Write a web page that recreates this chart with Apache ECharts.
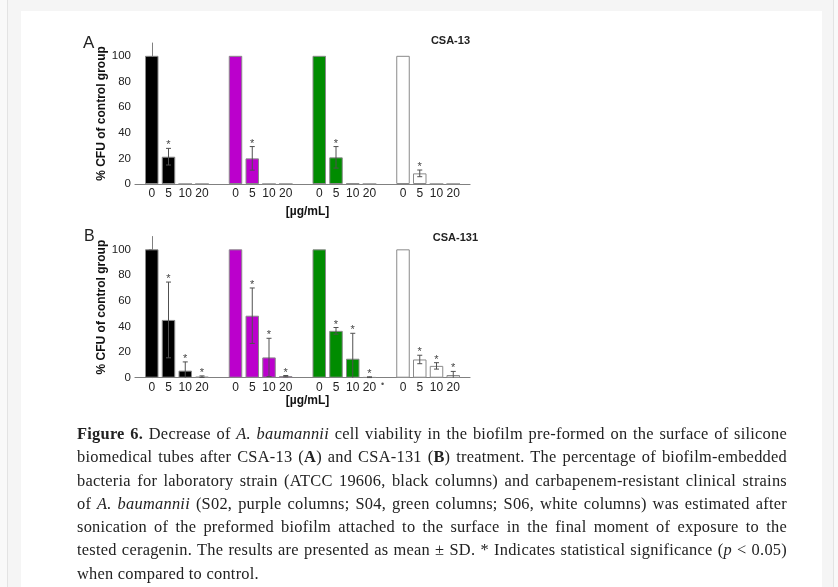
<!DOCTYPE html>
<html>
<head>
<meta charset="utf-8">
<script src="https://cdn.jsdelivr.net/npm/echarts@6/dist/echarts.min.js"></script>
<style>
  html, body { margin: 0; padding: 0; width: 838px; height: 587px; overflow: hidden; background: #f5f5f5; }
  #stripL { position: absolute; left: 0; top: 0; width: 7px; height: 587px; background: #f9f9f9; }
  #lineL { position: absolute; left: 7px; top: 0; width: 1px; height: 587px; background: #e3e3e3; }
  #stripR { position: absolute; left: 834px; top: 0; width: 4px; height: 587px; background: #f9f9f9; }
  #lineR { position: absolute; left: 833px; top: 0; width: 1px; height: 587px; background: #e3e3e3; }
  #panel { position: absolute; left: 21px; top: 11px; width: 801px; height: 600px; background: #ffffff; }
  #chart { position: absolute; left: 0; top: 0; width: 838px; height: 587px; }
  #caption { position: absolute; left: 77px; top: 422px; width: 710px;
    font-family: "Liberation Serif", "DejaVu Serif", serif; font-size: 16.4px; letter-spacing: 0.25px;
    line-height: 23.3px; color: #222; }
  #caption .ln { white-space: nowrap; text-align: justify; text-align-last: justify; }
  #caption .last { white-space: nowrap; text-align: left; }
</style>
</head>
<body>
<div id="stripL"></div><div id="lineL"></div>
<div id="panel"></div>
<div id="lineR"></div><div id="stripR"></div>
<div id="chart"></div>
<div id="caption">
  <div class="ln"><b>Figure 6.</b> Decrease of <i>A. baumannii</i> cell viability in the biofilm pre-formed on the surface of silicone</div>
  <div class="ln">biomedical tubes after CSA-13 (<b>A</b>) and CSA-131 (<b>B</b>) treatment. The percentage of biofilm-embedded</div>
  <div class="ln">bacteria for laboratory strain (ATCC 19606, black columns) and carbapenem-resistant clinical strains</div>
  <div class="ln">of <i>A. baumannii</i> (S02, purple columns; S04, green columns; S06, white columns) was estimated after</div>
  <div class="ln">sonication of the preformed biofilm attached to the surface in the final moment of exposure to the</div>
  <div class="ln">tested ceragenin. The results are presented as mean ± SD. * Indicates statistical significance (<i>p</i> &lt; 0.05)</div>
  <div class="last">when compared to control.</div>
</div>
<script>
// ---- data ----
const concLabels = ['0', '5', '10', '20'];          // µg/mL
const strains = ['ATCC 19606', 'S02', 'S04', 'S06'];
const yTicks = [0, 20, 40, 60, 80, 100];

// Panel A: CSA-13, mean % CFU of control group
const a_ATCC = [100, 21.3, 0, 0];
const a_S02  = [100, 20.0, 0, 0];
const a_S04  = [100, 20.8, 0.5, 0];
const a_S06  = [100, 8.3, 0, 0];
// Panel A: SD
const a_ATCC_sd = [0, 6.5, 0, 0];
const a_S02_sd  = [0, 9.2, 0, 0];
const a_S04_sd  = [0, 8.4, 0, 0];
const a_S06_sd  = [0, 2.6, 0, 0];
// Panel A: significance (*)
const a_sig = [0, 1, 0, 0];

// Panel B: CSA-131, mean % CFU of control group
const b_ATCC = [100, 45.0, 5.5, 0.8];
const b_S02  = [100, 48.3, 15.8, 1.2];
const b_S04  = [100, 36.5, 14.8, 0.4];
const b_S06  = [100, 14.2, 9.2, 2.1];
// Panel B: SD
const b_ATCC_sd = [0, 29.5, 6.8, 0.6];
const b_S02_sd  = [0, 21.6, 14.9, 0.5];
const b_S04_sd  = [0, 2.6, 19.8, 0.3];
const b_S06_sd  = [0, 3.3, 2.5, 2.8];
// Panel B: significance (*)
const b_sig = [0, 1, 1, 1];

// ---- styles ----
const strainColors = ['#000000', '#bb00cc', '#008c00', '#ffffff'];
const FONT = '"Liberation Sans", Arial, sans-serif';
const GROUP_STEP = 5;

const panels = [
  { means: [a_ATCC, a_S02, a_S04, a_S06], sds: [a_ATCC_sd, a_S02_sd, a_S04_sd, a_S06_sd], sig: a_sig },
  { means: [b_ATCC, b_S02, b_S04, b_S06], sds: [b_ATCC_sd, b_S02_sd, b_S04_sd, b_S06_sd], sig: b_sig }
];

function xLabel(v) {
  const i = ((Math.round(v) % GROUP_STEP) + GROUP_STEP) % GROUP_STEP;
  return i < concLabels.length ? concLabels[i] : '';
}

const grids = [
  { left: 135, top: 43, width: 335, height: 141 },
  { left: 135, top: 236.5, width: 335, height: 141.2 }
];

const xAxes = grids.map((g, k) => ({
  type: 'value', gridIndex: k, min: -1, max: 19, interval: 1,
  axisLine: { show: true, lineStyle: { color: '#808080', width: 1.2 } },
  axisTick: { show: false },
  splitLine: { show: false },
  axisLabel: { formatter: xLabel, color: '#222', fontSize: 12, fontFamily: FONT, margin: 4 },
  name: '[µg/mL]', nameLocation: 'middle', nameGap: k === 0 ? 22 : 15,
  nameTextStyle: { fontWeight: 'bold', fontSize: 12, color: '#111', fontFamily: FONT, padding: [0, 0, 0, 10] }
}));

const yAxes = grids.map((g, k) => ({
  type: 'value', gridIndex: k, min: 0, max: 110,
  axisLine: { show: true, lineStyle: { color: '#808080', width: 1 } },
  axisTick: { show: true, length: 3, customValues: yTicks, lineStyle: { color: '#808080' } },
  splitLine: { show: false },
  axisLabel: { customValues: yTicks, color: '#222', fontSize: 11.5, fontFamily: FONT, margin: 4 },
  name: '% CFU of control group', nameLocation: 'middle', nameGap: 19,
  nameTextStyle: { fontWeight: 'bold', fontSize: 12, color: '#111', fontFamily: FONT }
}));

const series = [];
panels.forEach((p, k) => {
  strains.forEach((s, g) => {
    series.push({
      type: 'bar', name: s + (k === 0 ? ' CSA-13' : ' CSA-131'),
      xAxisIndex: k, yAxisIndex: k,
      barWidth: 13.5, barGap: '-100%',
      itemStyle: { color: strainColors[g], borderColor: '#8a8a8a', borderWidth: 1 },
      data: p.means[g].map((v, i) => [g * GROUP_STEP + i, v]),
      z: 2
    });
  });
  const errData = [];
  strains.forEach((s, g) => {
    p.means[g].forEach((v, i) => {
      errData.push([g * GROUP_STEP + i, v, p.sds[g][i], p.sig[i]]);
    });
  });
  series.push({
    type: 'custom', xAxisIndex: k, yAxisIndex: k, z: 5,
    encode: { x: 0, y: 1 },
    data: errData,
    renderItem: function (params, api) {
      const x = api.value(0), m = api.value(1), sd = api.value(2), sig = api.value(3);
      const children = [];
      const top = api.coord([x, m + sd]);
      const lowV = Math.max(m - sd, 0);
      const bot = api.coord([x, lowV]);
      const cap = 2.5;
      const st = { stroke: '#505050', lineWidth: 1 };
      if (sd > 0) {
        children.push({ type: 'line', shape: { x1: top[0], y1: top[1], x2: bot[0], y2: bot[1] }, style: st });
        children.push({ type: 'line', shape: { x1: top[0] - cap, y1: top[1], x2: top[0] + cap, y2: top[1] }, style: st });
        if (m - sd > 0) {
          children.push({ type: 'line', shape: { x1: bot[0] - cap, y1: bot[1], x2: bot[0] + cap, y2: bot[1] }, style: st });
        }
      }
      if (sig) {
        children.push({ type: 'text', x: top[0], y: top[1] - 3,
          style: { text: '*', fill: '#444', fontSize: 11, fontFamily: FONT, align: 'center', verticalAlign: 'middle' } });
      }
      return { type: 'group', children: children };
    }
  });
});

const chart = echarts.init(document.getElementById('chart'), null, { renderer: 'canvas' });
chart.setOption({
  backgroundColor: 'transparent',
  animation: false,
  grid: grids,
  xAxis: xAxes,
  yAxis: yAxes,
  series: series,
  graphic: [
    { type: 'text', left: 83, top: 35, style: { text: 'A', fontSize: 17, fontFamily: FONT, fill: '#222' } },
    { type: 'text', left: 84, top: 229, style: { text: 'B', fontSize: 16, fontFamily: FONT, fill: '#222' } },
    { type: 'text', right: 368, top: 35, style: { text: 'CSA-13', fontSize: 11, fontWeight: 'bold', fontFamily: FONT, fill: '#222' } },
    { type: 'text', right: 360, top: 232, style: { text: 'CSA-131', fontSize: 11, fontWeight: 'bold', fontFamily: FONT, fill: '#222' } },
    { type: 'text', left: 381, top: 380, style: { text: '•', fontSize: 9, fontFamily: FONT, fill: '#555' } }
  ]
});
</script>
</body>
</html>
